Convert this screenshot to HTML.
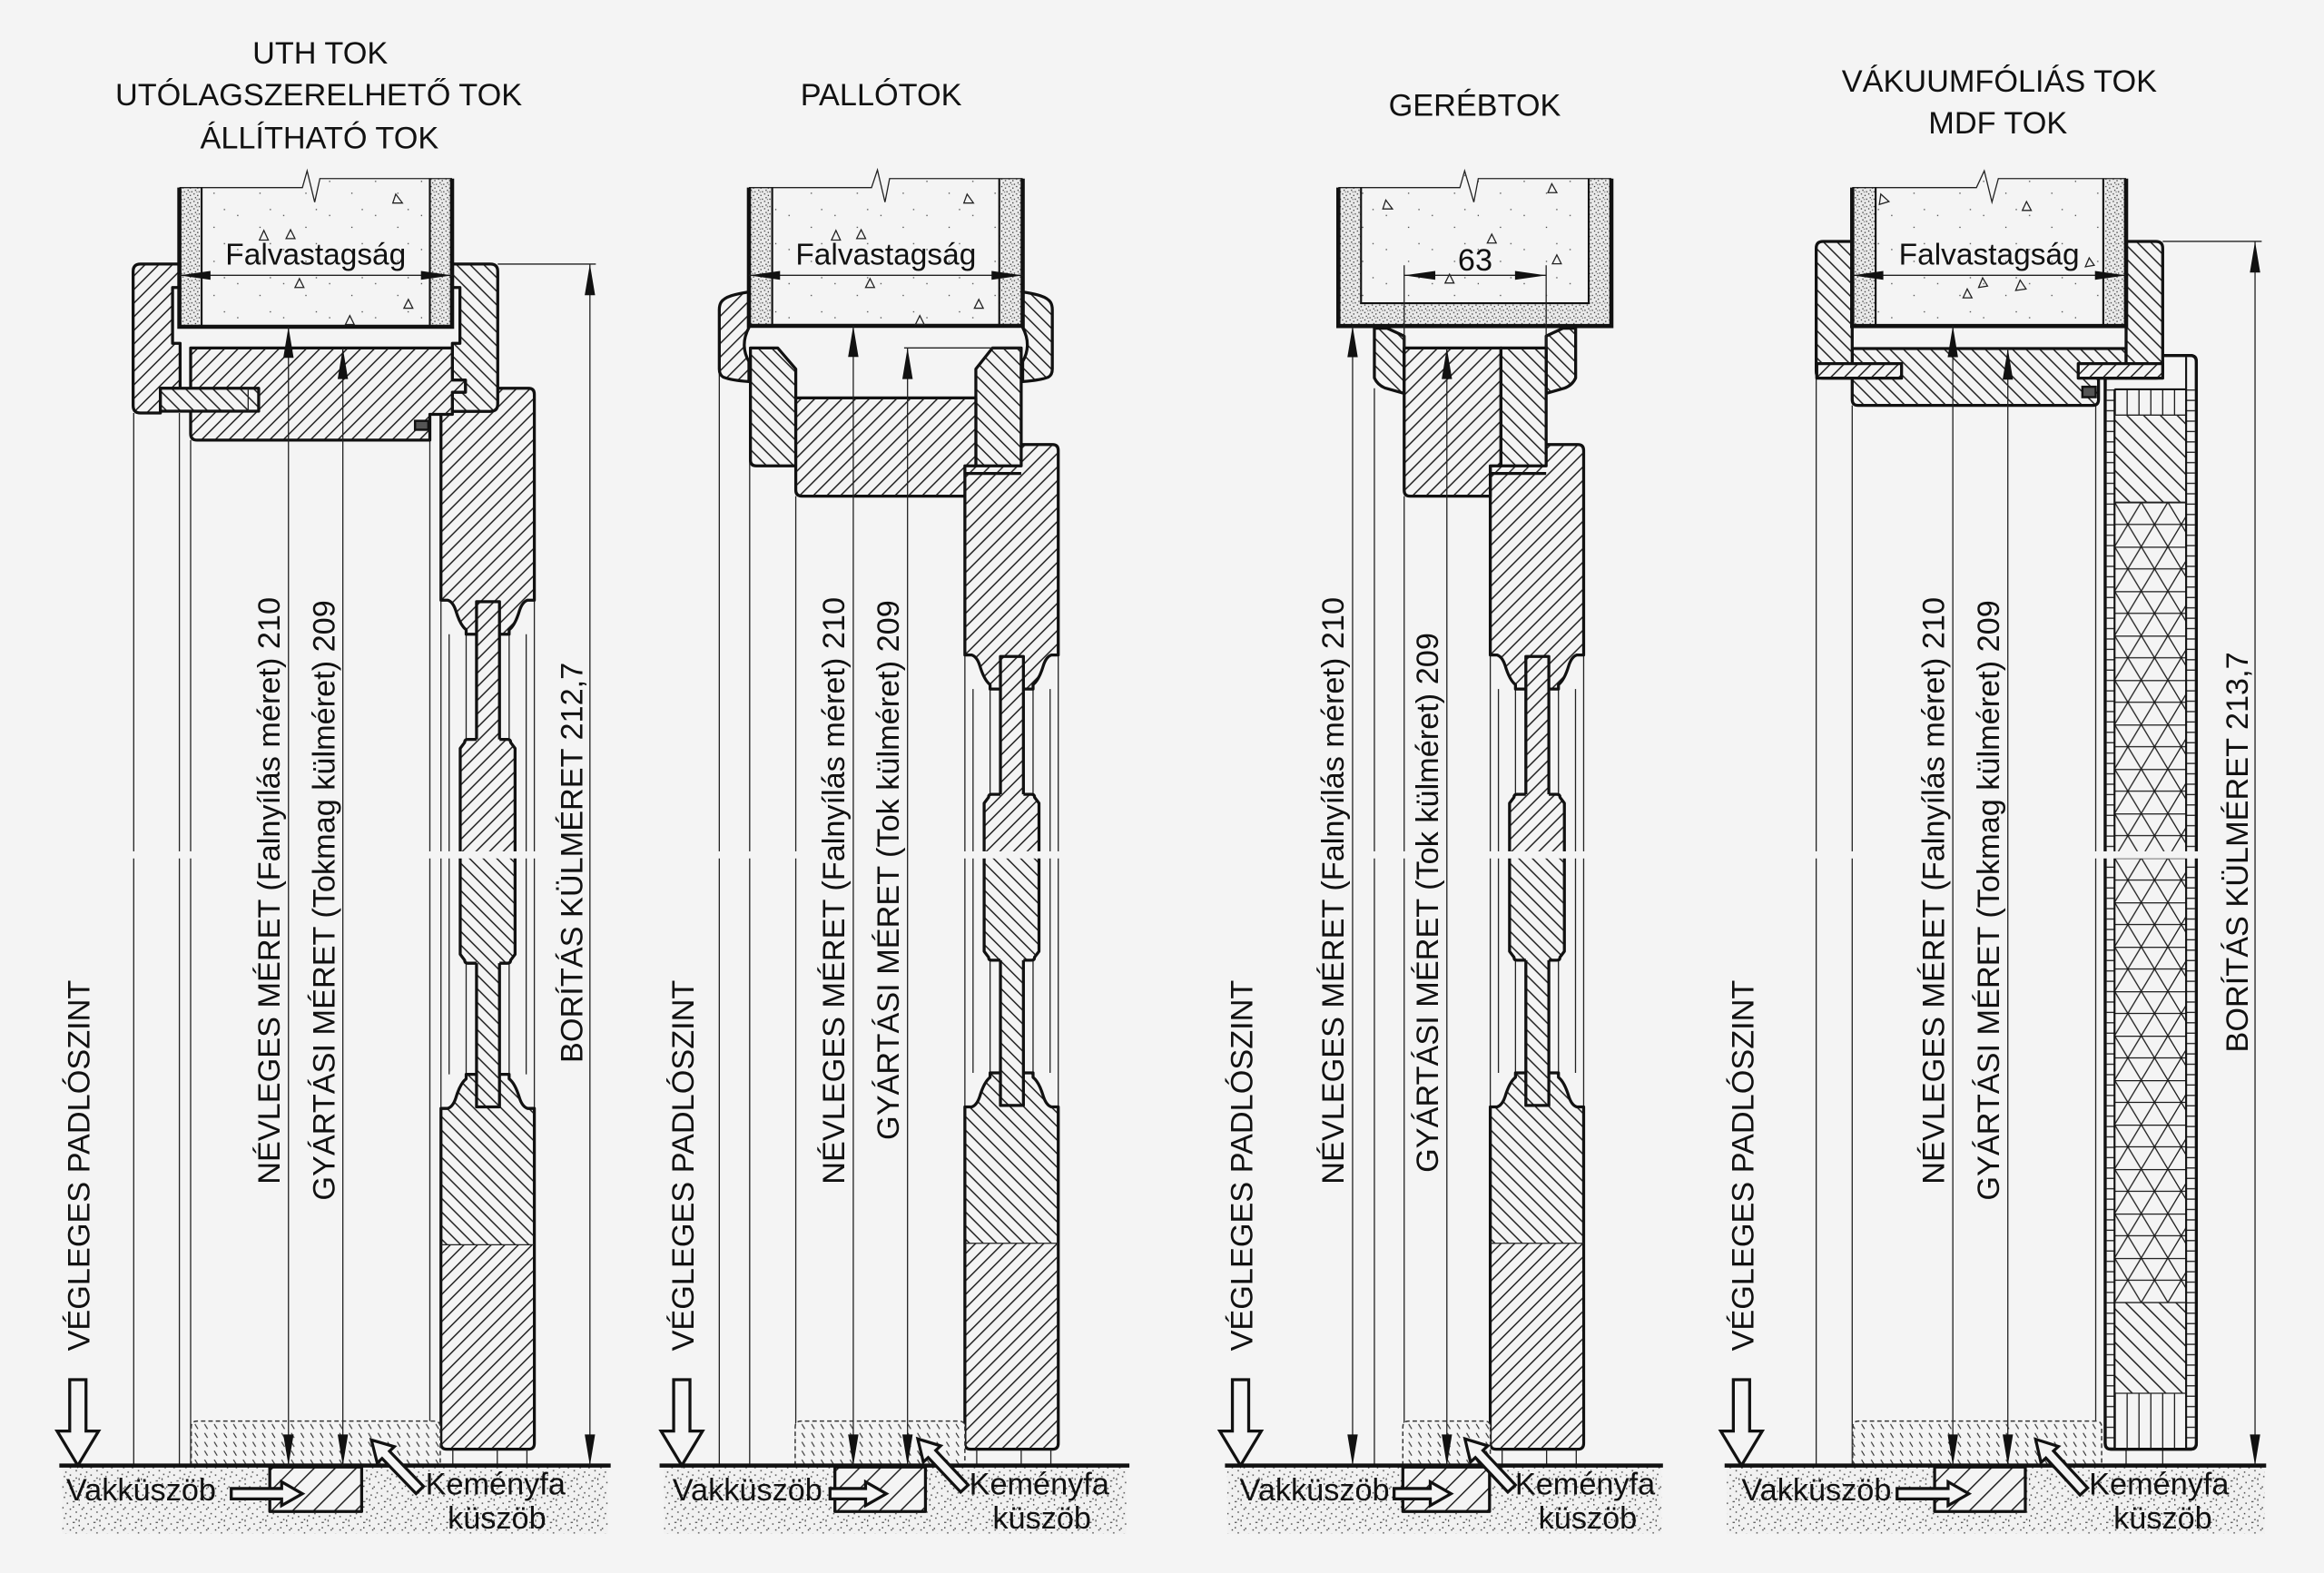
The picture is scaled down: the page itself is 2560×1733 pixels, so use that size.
<!DOCTYPE html>
<html><head><meta charset="utf-8">
<style>
html,body{margin:0;padding:0;background:#f4f4f4;}
svg{display:block}
.tx{font-family:"Liberation Sans",Arial,sans-serif;font-size:21px;fill:#111}
.fv{font-family:"Liberation Sans",Arial,sans-serif;font-size:20.5px;fill:#111}
.s{stroke:#111;stroke-width:2;stroke-linejoin:round}
.k{fill:none;stroke:#111;stroke-width:2;stroke-linejoin:round}
.K{fill:none;stroke:#111;stroke-width:2.8}
.m{fill:none;stroke:#111;stroke-width:1.3}
.t{fill:none;stroke:#222;stroke-width:0.8}
.tri{fill:none;stroke:#222;stroke-width:0.8}
.ah{fill:#111;stroke:none}
.ho{fill:#f4f4f4;stroke:#111;stroke-width:2;stroke-linejoin:miter}
.thr{stroke:#333;stroke-width:0.9;stroke-dasharray:3 2}
</style></head><body>
<svg width="2560" height="1733" viewBox="0 0 1568 1061.5" xmlns="http://www.w3.org/2000/svg">
<defs>
<pattern id="hf" patternUnits="userSpaceOnUse" width="6.5" height="6.5" patternTransform="rotate(45)"><rect width="6.5" height="6.5" fill="#f4f4f4"/><line x1="0.5" y1="0" x2="0.5" y2="6.5" stroke="#1a1a1a" stroke-width="0.9"/></pattern>
<pattern id="hb" patternUnits="userSpaceOnUse" width="6.5" height="6.5" patternTransform="rotate(-45)"><rect width="6.5" height="6.5" fill="#f4f4f4"/><line x1="0.5" y1="0" x2="0.5" y2="6.5" stroke="#1a1a1a" stroke-width="0.9"/></pattern>
<pattern id="hw" patternUnits="userSpaceOnUse" width="10" height="10" patternTransform="rotate(45)"><rect width="10" height="10" fill="#f4f4f4"/><line x1="0.5" y1="0" x2="0.5" y2="10" stroke="#1a1a1a" stroke-width="0.9"/></pattern>
<pattern id="h4" patternUnits="userSpaceOnUse" width="8" height="8" patternTransform="rotate(-45)"><rect width="8" height="8" fill="#f4f4f4"/><line x1="0.5" y1="0" x2="0.5" y2="8" stroke="#1a1a1a" stroke-width="0.9"/></pattern>
<pattern id="th" patternUnits="userSpaceOnUse" width="6.5" height="6"><rect width="6.5" height="6" fill="#f4f4f4"/><line x1="1.5" y1="1" x2="3.5" y2="4.3" stroke="#333" stroke-width="0.7"/></pattern>
<pattern id="gr" patternUnits="userSpaceOnUse" width="14" height="14"><rect width="14" height="14" fill="#f1f1f1"/><g fill="#444">
<rect x="1" y="2" width=".9" height=".9"/><rect x="5" y="1" width=".9" height=".9"/><rect x="9" y="3" width=".9" height=".9"/><rect x="12" y="0.5" width=".9" height=".9"/>
<rect x="3" y="6" width=".9" height=".9"/><rect x="7" y="5" width="1.5" height=".7"/><rect x="11" y="7" width=".9" height=".9"/><rect x="0" y="9" width=".9" height=".9"/>
<rect x="5" y="10" width=".9" height=".9"/><rect x="9" y="12" width=".9" height=".9"/><rect x="13" y="10" width=".9" height=".9"/><rect x="2" y="13" width=".9" height=".9"/>
<rect x="7" y="8.5" width=".9" height=".9"/><rect x="11" y="3.5" width=".7" height="1.4"/></g></pattern>
<pattern id="pl" patternUnits="userSpaceOnUse" width="5" height="5"><rect width="5" height="5" fill="#eaeaea"/><g fill="#333">
<rect x=".5" y=".5" width=".8" height=".8"/><rect x="3" y="1.5" width=".8" height=".8"/><rect x="1.5" y="3" width=".8" height=".8"/><rect x="4" y="4" width=".8" height=".8"/><rect x="2.5" y="4.3" width=".6" height=".6"/></g></pattern>
<pattern id="cc" patternUnits="userSpaceOnUse" width="31" height="23"><rect width="31" height="23" fill="#f4f4f4"/><g fill="#444"><rect x="5" y="7" width=".8" height=".8"/><rect x="20" y="15" width=".8" height=".8"/><rect x="27" y="3" width=".8" height=".8"/></g></pattern>
<pattern id="xh" patternUnits="userSpaceOnUse" x="1426.7" y="338.9" width="18" height="30"><rect width="18" height="30" fill="#f4f4f4"/><g stroke="#1a1a1a" stroke-width="0.8"><line x1="0" y1="0" x2="18" y2="30"/><line x1="18" y1="0" x2="0" y2="30"/><line x1="0" y1="0.4" x2="18" y2="0.4"/><line x1="0" y1="15" x2="18" y2="15"/></g></pattern>
<pattern id="vl" patternUnits="userSpaceOnUse" x="1426.7" width="8" height="8"><rect width="8" height="8" fill="#f4f4f4"/><line x1="0.5" y1="0" x2="0.5" y2="8" stroke="#1a1a1a" stroke-width="0.8"/></pattern>
<pattern id="tk" patternUnits="userSpaceOnUse" y="262.7" width="8" height="7"><rect width="8" height="7" fill="#f4f4f4"/><line x1="0" y1="0.5" x2="8" y2="0.5" stroke="#1a1a1a" stroke-width="0.8"/></pattern>

<g id="leaf1">
<path class="t" d="M0,405 V748 M5.5,428 V725 M17,428 V725 M46,428 V725 M57.5,428 V725 M63,405 V748"/>
<path class="s" fill="url(#hf)" d="M0,266 Q0,262 4,262 L59,262 Q63,262 63,266 L63,405 L58.5,405 Q55,406 53,412 Q50,422 46,425 L46,428 L17,428 L17,425 Q13,422 10,412 Q8,406 4.5,405 L0,405 Z"/>
<path class="s" fill="url(#hb)" d="M0,748 L4.5,748 Q8,747 10,741 Q13,731 17,728 L17,725 L46,725 L46,728 Q50,731 53,741 Q55,747 58.5,748 L63,748 L63,974 Q63,978 59,978 L4,978 Q0,978 0,974 Z"/>
<path fill="url(#hf)" d="M1,840 L62,840 L62,974 Q62,977 59,977 L4,977 Q1,977 1,974 Z"/>
<path class="t" d="M0,840 H63"/>
<rect class="s" fill="url(#hf)" x="24" y="406" width="15.5" height="171"/>
<rect class="s" fill="url(#hb)" x="24" y="577" width="15.5" height="170"/>
<path fill="url(#hf)" d="M24,499 L18,499 Q16,499 16,501 L13,505 L13,577 L50,577 L50,505 L47,501 Q47,499 45,499 L39.5,499 Z"/>
<path class="k" d="M24,499 L18,499 Q16,499 16,501 L13,505 L13,577 M50,577 L50,505 L47,501 Q47,499 45,499 L39.5,499"/>
<path fill="url(#hb)" d="M13,577 L13,644 L16,648 Q16,650 18,650 L45,650 Q47,650 47,648 L50,644 L50,577 Z"/>
<path class="k" d="M13,577 L13,644 L16,648 Q16,650 18,650 L24,650 M39.5,650 L45,650 Q47,650 47,648 L50,644 L50,577"/>
<path class="t" d="M8,978 V989 M38,978 V989 M58,978 V989"/>
</g>

<g id="leaf2">
<path class="t" d="M0,442 V747 M5.5,465 V724 M17,465 V724 M46,465 V724 M57.5,465 V724 M63,442 V747"/>
<path class="s" fill="url(#hf)" d="M0,304 Q0,300 4,300 L59,300 Q63,300 63,304 L63,442 L58.5,442 Q55,443 53,449 Q50,459 46,462 L46,465 L17,465 L17,462 Q13,459 10,449 Q8,443 4.5,442 L0,442 Z"/>
<path class="s" fill="url(#hb)" d="M0,747 L4.5,747 Q8,746 10,740 Q13,730 17,727 L17,724 L46,724 L46,727 Q50,730 53,740 Q55,746 58.5,747 L63,747 L63,974 Q63,978 59,978 L4,978 Q0,978 0,974 Z"/>
<path fill="url(#hf)" d="M1,839 L62,839 L62,974 Q62,977 59,977 L4,977 Q1,977 1,974 Z"/>
<path class="t" d="M0,839 H63"/>
<rect class="s" fill="url(#hf)" x="24" y="443" width="15.5" height="134"/>
<rect class="s" fill="url(#hb)" x="24" y="577" width="15.5" height="169"/>
<path fill="url(#hf)" d="M24,536 L18,536 Q16,536 16,538 L13,542 L13,577 L50,577 L50,542 L47,538 Q47,536 45,536 L39.5,536 Z"/>
<path class="k" d="M24,536 L18,536 Q16,536 16,538 L13,542 L13,577 M50,577 L50,542 L47,538 Q47,536 45,536 L39.5,536"/>
<path fill="url(#hb)" d="M13,577 L13,642 L16,646 Q16,648 18,648 L45,648 Q47,648 47,646 L50,642 L50,577 Z"/>
<path class="k" d="M13,577 L13,642 L16,646 Q16,648 18,648 L24,648 M39.5,648 L45,648 Q47,648 47,646 L50,642 L50,577"/>
<path class="t" d="M8,978 V989 M38,978 V989 M58,978 V989"/>
</g>
</defs>

<rect width="1568" height="1061.5" fill="#f4f4f4"/>

<rect x="42" y="990" width="368" height="45" fill="url(#gr)"/>
<rect x="448" y="990" width="312" height="45" fill="url(#gr)"/>
<rect x="828" y="990" width="293" height="45" fill="url(#gr)"/>
<rect x="1165" y="990" width="363" height="45" fill="url(#gr)"/>

<!-- ============ PANEL 1 ============ -->
<path class="t" d="M90.2,278.7 V989 M121,278.7 V989 M128.6,297 V989 M290,297 V989"/>
<use href="#leaf1" x="297.5"/>
<path class="s" fill="url(#hf)" d="M94.8,178.2 L121.1,178.2 L121.1,194 L116.4,194 L116.4,231.7 L121.5,231.7 L121.5,262 L108.2,262 L108.2,278.7 L94.8,278.7 Q89.8,278.7 89.8,273.7 L89.8,183.2 Q89.8,178.2 94.8,178.2 Z"/>
<path class="s" fill="url(#hb)" d="M305.2,178.2 L330.8,178.2 Q335.8,178.2 335.8,183.2 L335.8,272.6 Q335.8,277.6 330.8,277.6 L305.2,277.6 L305.2,264.7 L314,264.7 L314,256.5 L305.2,256.5 L305.2,231.7 L310.3,231.7 L310.3,194 L305.2,194 Z"/>
<path class="s" fill="url(#hf)" d="M128.6,234.8 L305.2,234.8 L305.2,256.5 L314,256.5 L314,264.7 L305.2,264.7 L305.2,279.6 L290,279.6 L290,297 L133,297 Q128.6,297 128.6,292.6 Z"/>
<rect class="s" fill="url(#hb)" x="108.2" y="262" width="66.3" height="15.5"/>
<path class="t" d="M167.4,262 V277.5"/>
<rect x="280" y="284" width="9" height="6" fill="#555" stroke="#111" stroke-width="1.5"/>
<path fill="url(#cc)" d="M121,126.6 L204,126.6 L207.2,115.3 L212.3,136.4 L215.8,120.5 L305,120.5 L305,220.5 L121,220.5 Z"/>
<rect x="121" y="126.6" width="15" height="93.9" fill="url(#pl)"/>
<rect x="290" y="120.5" width="15" height="100" fill="url(#pl)"/>
<path class="t" d="M121,126.6 L204,126.6 L207.2,115.3 L212.3,136.4 L215.8,120.5 L305,120.5"/>
<path class="K" d="M121,126.6 V220.5 H305 V120.5"/>
<path class="m" d="M136,126.6 V220.5 M290,120.5 V220.5"/>
<g class="tri">
<path d="M265,137 L271.5,137 L267,131 Z"/><path d="M175,162 L181,162 L178,155.5 Z"/><path d="M193,161 L199,161 L196,155 Z"/>
<path d="M199,194 L205,194 L202,188 Z"/><path d="M272.5,208 L278.5,208 L275.5,202 Z"/><path d="M233,219 L239,219 L236,213 Z"/>
</g>
<path class="thr" fill="url(#th)" d="M129,989 V963 Q129,959 133,959 H293 Q297,959 297,963 V989"/>
<rect class="s" fill="url(#hw)" x="182" y="990" width="62" height="30"/>
<path class="K" d="M40,989 H412" stroke-width="3"/>

<!-- ============ PANEL 2 ============ -->
<path class="t" d="M485.3,251 V989 M505.8,257.5 V989 M536.9,334.8 V989"/>
<use href="#leaf2" x="651"/>
<path class="s" fill="url(#hf)" d="M505.3,197 C496,198.5 489,200 486.5,204 Q485.3,206 485.3,209 L485.3,249 Q485.3,253 488,254.5 C492,256 498,257 505.3,257.5 L505.3,244 Q499,233 505.3,221 Z"/>
<path class="s" fill="url(#hb)" d="M690,197 C699.3,198.5 706.3,200 708.8,204 Q710,206 710,209 L710,249 Q710,253 707.3,254.5 C703.3,256 697.3,257 690,257.5 L690,244 Q696.3,233 690,221 Z"/>
<path class="s" fill="url(#hb)" d="M506.3,234.8 L524.7,234.8 L536.9,249 L536.9,314.4 L510.3,314.4 Q506.3,314.4 506.3,310.4 Z"/>
<path class="s" fill="url(#hb)" d="M669.6,234.8 L689,234.8 L689,314.4 L658.4,314.4 L658.4,249 Z"/>
<path class="s" fill="url(#hf)" d="M536.9,268.5 L658.4,268.5 L658.4,314.4 L651,314.4 L651,334.8 L541,334.8 Q536.9,334.8 536.9,330.7 Z"/>
<path class="k" d="M651,319.5 H689"/>
<path class="t" d="M610,234.8 H689"/>
<path fill="url(#cc)" d="M505.3,126.6 L588,126.6 L592,114.7 L597.1,136.4 L600.2,120.5 L690,120.5 L690,219.9 L505.3,219.9 Z"/>
<rect x="505.3" y="126.6" width="15.7" height="93.3" fill="url(#pl)"/>
<rect x="674.2" y="120.5" width="15.8" height="99.4" fill="url(#pl)"/>
<path class="t" d="M505.3,126.6 L588,126.6 L592,114.7 L597.1,136.4 L600.2,120.5 L690,120.5"/>
<path class="K" d="M505.3,126.6 V219.9 H690 V120.5"/>
<path class="m" d="M521,126.6 V219.9 M674.2,120.5 V219.9"/>
<g class="tri">
<path d="M650.3,137 L656.8,137 L652.5,131 Z"/><path d="M561,162 L567,162 L564,155.5 Z"/><path d="M578,161 L584,161 L581,155 Z"/>
<path d="M584,194 L590,194 L587,188 Z"/><path d="M657.4,208 L663.4,208 L660.4,202 Z"/><path d="M617.6,219 L623.6,219 L620.6,213 Z"/>
</g>
<path class="thr" fill="url(#th)" d="M536.5,989 V963 Q536.5,959 540.5,959 H647 Q651,959 651,963 V989"/>
<rect class="s" fill="url(#hw)" x="563.3" y="990" width="61.1" height="30"/>
<path class="K" d="M445,989 H762" stroke-width="3"/>

<!-- ============ PANEL 3 ============ -->
<path class="t" d="M927.3,262 V989 M947.4,334.8 V989"/>
<use href="#leaf2" x="1005.5"/>
<path class="s" fill="url(#hb)" d="M927.3,221.5 L935.9,221.5 L947.4,226.8 L947.4,265.5 L935,262 Q929.5,260 927.3,255 Z"/>
<path class="s" fill="url(#hb)" d="M1063.1,221.5 L1054.5,221.5 L1043.2,226.8 L1043.2,265.5 L1055.4,262 Q1060.9,260 1063.1,255 Z"/>
<path class="s" fill="url(#hf)" d="M947.4,234.8 L1012.7,234.8 L1012.7,314.4 L1005.5,314.4 L1005.5,334.8 L951.4,334.8 Q947.4,334.8 947.4,330.8 Z"/>
<rect class="s" fill="url(#hb)" x="1012.7" y="234.8" width="30.5" height="79.6"/>
<path class="k" d="M1005.5,319.5 H1043.2"/>
<path fill="url(#cc)" d="M903,126.6 L985,126.6 L988.2,115.3 L994.4,136.4 L997.4,120.5 L1087.2,120.5 L1087.2,220 L903,220 Z"/>
<path fill="url(#pl)" d="M903,126.6 H918.3 V204.6 H1071.9 V120.5 H1087.2 V220 H903 Z"/>
<path class="t" d="M903,126.6 L985,126.6 L988.2,115.3 L994.4,136.4 L997.4,120.5 L1087.2,120.5"/>
<path class="K" d="M903,126.6 V220 H1087.2 V120.5"/>
<path class="m" d="M918.3,126.6 V204.6 H1071.9 V120.5"/>
<g class="tri">
<path d="M933,141 L939.5,141 L935,135 Z"/><path d="M1044.4,130 L1050.4,130 L1047,124 Z"/><path d="M1003.5,164 L1009.5,164 L1006.5,158 Z"/>
<path d="M1047.4,178 L1053.4,178 L1050.4,172 Z"/><path d="M975,191 L981,191 L978,185 Z"/>
</g>
<path class="t" d="M947.4,179 V234.8 M1043.2,179 V234.8"/>
<path class="thr" fill="url(#th)" d="M946.5,989 V963 Q946.5,959 950.5,959 H1001.5 Q1005.5,959 1005.5,963 V989"/>
<rect class="s" fill="url(#hw)" x="946.5" y="990" width="58.5" height="30"/>
<path class="K" d="M826.5,989 H1122" stroke-width="3"/>

<!-- ============ PANEL 4 ============ -->
<path class="t" d="M1225.4,255.2 V989 M1249.7,273.6 V989 M1414,273.6 V989 M1434.5,978 V989 M1459.2,978 V989"/>
<path class="s" fill="#f4f4f4" d="M1420.4,244 Q1420.4,239.9 1424.5,239.9 L1477.8,239.9 Q1481.9,239.9 1481.9,244 L1481.9,974 Q1481.9,978 1477.8,978 L1424.5,978 Q1420.4,978 1420.4,974 Z"/>
<rect x="1421.4" y="262.7" width="5.3" height="714.3" fill="url(#tk)"/>
<rect x="1475" y="262.7" width="5.9" height="714.3" fill="url(#tk)"/>
<rect x="1426.7" y="262.7" width="48.3" height="17.4" fill="url(#vl)"/>
<rect x="1426.7" y="280.1" width="48.3" height="58.8" fill="url(#h4)"/>
<rect x="1426.7" y="338.9" width="48.3" height="540.1" fill="url(#xh)"/>
<rect x="1426.7" y="879" width="48.3" height="61.2" fill="url(#h4)"/>
<rect x="1426.7" y="940.2" width="48.3" height="36.8" fill="url(#vl)"/>
<path class="m" d="M1426.7,262.7 V977 M1475,240.9 V977 M1426.7,262.7 H1475"/>
<path class="t" d="M1426.7,280.1 H1475 M1426.7,338.9 H1475 M1426.7,879 H1475 M1426.7,940.2 H1475"/>
<path class="k" d="M1420.4,244 Q1420.4,239.9 1424.5,239.9 L1477.8,239.9 Q1481.9,239.9 1481.9,244 L1481.9,974 Q1481.9,978 1477.8,978 L1424.5,978 Q1420.4,978 1420.4,974 Z"/>
<path class="s" fill="url(#hb)" d="M1249.7,235.2 L1434.5,235.2 L1434.5,255.2 L1415.9,255.2 L1415.9,269.6 Q1415.9,273.6 1411.9,273.6 L1253.7,273.6 Q1249.7,273.6 1249.7,269.6 Z"/>
<path class="s" fill="url(#hb)" d="M1230,162.9 L1249.7,162.9 L1249.7,255.2 L1230,255.2 Q1225.4,255.2 1225.4,250.6 L1225.4,167.5 Q1225.4,162.9 1230,162.9 Z"/>
<path class="s" fill="url(#hb)" d="M1434.5,162.9 L1454.6,162.9 Q1459.2,162.9 1459.2,167.5 L1459.2,250.6 Q1459.2,255.2 1454.6,255.2 L1434.5,255.2 Z"/>
<rect class="s" fill="url(#hf)" x="1225.8" y="245.4" width="57.2" height="9.8"/>
<rect class="s" fill="url(#hf)" x="1402.2" y="245.4" width="57" height="9.8"/>
<rect x="1405" y="261" width="9" height="7" fill="#555" stroke="#111" stroke-width="1.5"/>
<path fill="url(#cc)" d="M1249.7,126.6 L1333.5,126.6 L1338.8,115.3 L1344,136.4 L1348.3,120.5 L1434.5,120.5 L1434.5,220 L1249.7,220 Z"/>
<rect x="1249.7" y="126.6" width="15.8" height="93.4" fill="url(#pl)"/>
<rect x="1419.1" y="120.5" width="15.4" height="99.5" fill="url(#pl)"/>
<path class="t" d="M1249.7,126.6 L1333.5,126.6 L1338.8,115.3 L1344,136.4 L1348.3,120.5 L1434.5,120.5"/>
<path class="K" d="M1249.7,126.6 V220 H1434.5 V120.5"/>
<path class="m" d="M1265.5,126.6 V220 M1419.1,120.5 V220"/>
<g class="tri">
<path d="M1268,138 L1274.5,136 L1269,131 Z"/><path d="M1364.5,142 L1370.5,142 L1367.3,136 Z"/><path d="M1335,194 L1341,193 L1337.7,187.5 Z"/>
<path d="M1360,196 L1367,195 L1363,189 Z"/><path d="M1324.5,201 L1330.5,201 L1327.3,195 Z"/><path d="M1407,180 L1413,179 L1409.6,174 Z"/>
</g>
<path class="thr" fill="url(#th)" d="M1250,989 V963 Q1250,959 1254,959 H1414 Q1418,959 1418,963 V989"/>
<rect class="s" fill="url(#hw)" x="1305.3" y="990" width="61.2" height="30"/>
<path class="K" d="M1163.6,989 H1529" stroke-width="3"/>

<!-- break gap -->
<rect x="0" y="574.5" width="1568" height="4.8" fill="#f4f4f4"/>

<!-- dimensions -->
<path class="t" d="M194.6,220.5 V989 M231.3,234.8 V989 M398,178.2 V989 M335.8,178.2 H402 M121,185.8 H305"/>
<path class="ah" d="M194.6,220.5 l-3.5,21 h7 Z M194.6,989 l-3.5,-21 h7 Z M231.3,234.8 l-3.5,21 h7 Z M231.3,989 l-3.5,-21 h7 Z M398,178.2 l-3.5,21 h7 Z M398,989 l-3.5,-21 h7 Z M121,185.8 l21,-3 v6 Z M305,185.8 l-21,-3 v6 Z"/>
<path class="t" d="M575.7,219.9 V989 M612.3,234.8 V989 M505.3,185.8 H690"/>
<path class="ah" d="M575.7,219.9 l-3.5,21 h7 Z M575.7,989 l-3.5,-21 h7 Z M612.3,234.8 l-3.5,21 h7 Z M612.3,989 l-3.5,-21 h7 Z M505.3,185.8 l21,-3 v6 Z M690,185.8 l-21,-3 v6 Z"/>
<path class="t" d="M912.6,220 V989 M976.2,234.8 V989 M947.4,185.8 H1043.2"/>
<path class="ah" d="M912.6,220 l-3.5,21 h7 Z M912.6,989 l-3.5,-21 h7 Z M976.2,234.8 l-3.5,21 h7 Z M976.2,989 l-3.5,-21 h7 Z M947.4,185.8 l21,-3 v6 Z M1043.2,185.8 l-21,-3 v6 Z"/>
<path class="t" d="M1317.6,220 V989 M1354.7,235.2 V989 M1521.5,162.9 V989 M1459.2,162.9 H1526 M1249.7,185.8 H1434.5"/>
<path class="ah" d="M1317.6,220 l-3.5,21 h7 Z M1317.6,989 l-3.5,-21 h7 Z M1354.7,235.2 l-3.5,21 h7 Z M1354.7,989 l-3.5,-21 h7 Z M1521.5,162.9 l-3.5,21 h7 Z M1521.5,989 l-3.5,-21 h7 Z M1249.7,185.8 l21,-3 v6 Z M1434.5,185.8 l-21,-3 v6 Z"/>

<path class="ho" d="M47,931 H58 V965.7 H66.5 L52.5,989 L38.5,965.7 H47 Z"/>
<path class="ho" d="M454.5,931 H465.5 V965.7 H474 L460,989 L446,965.7 H454.5 Z"/>
<path class="ho" d="M831.5,931 H842.5 V965.7 H851 L837,989 L823,965.7 H831.5 Z"/>
<path class="ho" d="M1169.5,931 H1180.5 V965.7 H1189 L1175,989 L1161,965.7 H1169.5 Z"/>

<path class="ho" d="M156,1004.5 H190 V1000 L204,1008 L190,1016 V1011.5 H156 Z"/>
<path class="ho" d="M560,1004.5 H584 V1000 L598,1008 L584,1016 V1011.5 H560 Z"/>
<path class="ho" d="M940.6,1004.5 H965 V1000 L979,1008 L965,1016 V1011.5 H940.6 Z"/>
<path class="ho" d="M1280,1004.5 H1314.4 V1000 L1328.4,1008 L1314.4,1016 V1011.5 H1280 Z"/>

<path class="ho" transform="translate(283.2,1005.5) rotate(-134)" d="M0,-3.5 H33 V-8 L47,0 L33,8 V3.5 H0 Z"/>
<path class="ho" transform="translate(650.7,1004.5) rotate(-133.2)" d="M0,-3.5 H32 V-8 L46,0 L32,8 V3.5 H0 Z"/>
<path class="ho" transform="translate(1019.9,1004.5) rotate(-133.2)" d="M0,-3.5 H32 V-8 L46,0 L32,8 V3.5 H0 Z"/>
<path class="ho" transform="translate(1406,1006.5) rotate(-132.7)" d="M0,-3.5 H34 V-8 L48,0 L34,8 V3.5 H0 Z"/>

<!-- text -->
<g class="tx" text-anchor="middle">
<text x="216" y="43">UTH TOK</text>
<text x="215" y="71">UTÓLAGSZERELHETŐ TOK</text>
<text x="215.5" y="100">ÁLLÍTHATÓ TOK</text>
<text x="594.5" y="71">PALLÓTOK</text>
<text x="995" y="78">GERÉBTOK</text>
<text x="1349" y="62">VÁKUUMFÓLIÁS TOK</text>
<text x="1348" y="90">MDF TOK</text>
<text x="995.3" y="182.6">63</text>
</g>
<g class="fv" text-anchor="middle">
<text x="213" y="178.6">Falvastagság</text>
<text x="597.7" y="178.6">Falvastagság</text>
<text x="1342.1" y="178.6">Falvastagság</text>
</g>

<g class="tx">
<text transform="translate(60.2,911.7) rotate(-90)">VÉGLEGES PADLÓSZINT</text>
<text transform="translate(468,911.7) rotate(-90)">VÉGLEGES PADLÓSZINT</text>
<text transform="translate(845,911.7) rotate(-90)">VÉGLEGES PADLÓSZINT</text>
<text transform="translate(1183,911.7) rotate(-90)">VÉGLEGES PADLÓSZINT</text>
</g>
<g class="tx" text-anchor="end">
<text transform="translate(188.6,403) rotate(-90)">NÉVLEGES MÉRET (Falnyílás méret) 210</text>
<text transform="translate(225.6,405) rotate(-90)">GYÁRTÁSI MÉRET (Tokmag külméret) 209</text>
<text transform="translate(393,447) rotate(-90)">BORÍTÁS KÜLMÉRET 212,7</text>
<text transform="translate(569.7,403) rotate(-90)">NÉVLEGES MÉRET (Falnyílás méret) 210</text>
<text transform="translate(606.3,405) rotate(-90)">GYÁRTÁSI MÉRET (Tok külméret) 209</text>
<text transform="translate(906.6,403) rotate(-90)">NÉVLEGES MÉRET (Falnyílás méret) 210</text>
<text transform="translate(970.2,427) rotate(-90)">GYÁRTÁSI MÉRET (Tok külméret) 209</text>
<text transform="translate(1311.6,403) rotate(-90)">NÉVLEGES MÉRET (Falnyílás méret) 210</text>
<text transform="translate(1348.7,405) rotate(-90)">GYÁRTÁSI MÉRET (Tokmag külméret) 209</text>
<text transform="translate(1516.5,440) rotate(-90)">BORÍTÁS KÜLMÉRET 213,7</text>
</g>

<g class="tx">
<text x="44.6" y="1012.5">Vakküszöb</text>
<text x="287" y="1008.5">Keményfa</text>
<text x="302" y="1031.5">küszöb</text>
<text x="453.7" y="1012.5">Vakküszöb</text>
<text x="653.9" y="1008.5">Keményfa</text>
<text x="669.7" y="1031.5">küszöb</text>
<text x="836.4" y="1012.5">Vakküszöb</text>
<text x="1022.2" y="1008.5">Keményfa</text>
<text x="1038" y="1031.5">küszöb</text>
<text x="1175" y="1012.5">Vakküszöb</text>
<text x="1409.5" y="1008.5">Keményfa</text>
<text x="1426" y="1031.5">küszöb</text>
</g>
</svg>
</body></html>
